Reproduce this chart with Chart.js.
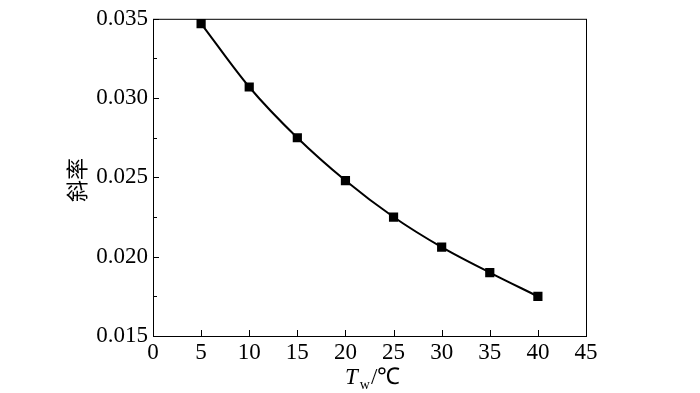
<!DOCTYPE html>
<html>
<head>
<meta charset="utf-8">
<script src="https://cdn.jsdelivr.net/npm/chart.js@4/dist/chart.umd.min.js"></script>
<style>
  html, body { margin: 0; padding: 0; background: #fff; }
  #wrap { width: 700px; height: 393px; }
</style>
</head>
<body>
<div id="wrap"><canvas id="chart"></canvas></div>
<script>
// data
const temps = [5, 10, 15, 20, 25, 30, 35, 40];
const slopes = [0.0347, 0.0307, 0.0275, 0.0248, 0.0225, 0.0206, 0.019, 0.0175];
const yMinorTicks = [0.0175, 0.0225, 0.0275, 0.0325];

const serif = "'Liberation Serif', 'Times New Roman', serif";

// frame, inward ticks and axis titles
const framePlugin = {
  id: "frame",
  afterDraw(chart) {
    const { ctx, chartArea: a, scales } = chart;
    ctx.save();
    ctx.strokeStyle = "#000";
    ctx.lineWidth = 1;
    ctx.strokeRect(a.left + 0.5, a.top + 0.5, a.right - a.left, a.bottom - a.top);

    ctx.beginPath();
    scales.x.ticks.forEach((t, i) => {
      const px = Math.round(scales.x.getPixelForTick(i)) + 0.5;
      ctx.moveTo(px, a.bottom);
      ctx.lineTo(px, a.bottom - 6);
    });
    scales.y.ticks.forEach((t, i) => {
      const py = Math.round(scales.y.getPixelForTick(i)) + 0.5;
      ctx.moveTo(a.left, py);
      ctx.lineTo(a.left + 6, py);
    });
    yMinorTicks.forEach((v) => {
      const py = Math.round(scales.y.getPixelForValue(v)) + 0.5;
      ctx.moveTo(a.left, py);
      ctx.lineTo(a.left + 4, py);
    });
    ctx.stroke();

    // x title: T_w/℃
    ctx.fillStyle = "#000";
    ctx.textBaseline = "alphabetic";
    ctx.textAlign = "left";
    ctx.font = "italic 23px " + serif;
    let x = 345;
    ctx.fillText("T", x, 384);
    x += ctx.measureText("T").width + 2;
    ctx.font = "14px " + serif;
    ctx.fillText("w", x, 389);
    x += ctx.measureText("w").width + 1;
    ctx.font = "23px " + serif;
    ctx.fillText("/℃", x, 384);

    // y title
    ctx.translate(77, 180);
    ctx.rotate(-Math.PI / 2);
    ctx.textAlign = "center";
    ctx.textBaseline = "middle";
    ctx.font = "22px 'Noto Sans CJK SC', sans-serif";
    ctx.fillText("斜率", 0, 0);
    ctx.restore();
  },
};

new Chart(document.getElementById("chart"), {
  type: "line",
  data: {
    labels: temps,
    datasets: [
      {
        data: temps.map((t, i) => ({ x: t, y: slopes[i] })),
        borderColor: "#000",
        backgroundColor: "#000",
        borderWidth: 2,
        tension: 0.4,
        cubicInterpolationMode: "monotone",
        pointStyle: "rect",
        pointRadius: 6.5,
        pointHoverRadius: 6.5,
        pointBorderWidth: 0,
      },
    ],
  },
  options: {
    responsive: true,
    maintainAspectRatio: false,
    animation: false,
    layout: { padding: { top: 18, right: 114, left: 0, bottom: 0 } },
    plugins: { legend: { display: false }, tooltip: { enabled: false } },
    scales: {
      x: {
        type: "linear",
        min: 0,
        max: 45,
        ticks: {
          stepSize: 5,
          color: "#000",
          padding: 3,
          font: { family: serif, size: 23 },
          maxRotation: 0,
        },
        grid: { display: false, drawTicks: false },
        border: { display: false },
        afterFit(scale) {
          scale.height = 57;
        },
      },
      y: {
        min: 0.015,
        max: 0.035,
        ticks: {
          stepSize: 0.005,
          color: "#000",
          padding: 5,
          font: { family: serif, size: 23 },
          callback: (v) => v.toFixed(3),
        },
        grid: { display: false, drawTicks: false },
        border: { display: false },
        afterFit(scale) {
          scale.width = 153;
        },
      },
    },
  },
  plugins: [framePlugin],
});
</script>
</body>
</html>
